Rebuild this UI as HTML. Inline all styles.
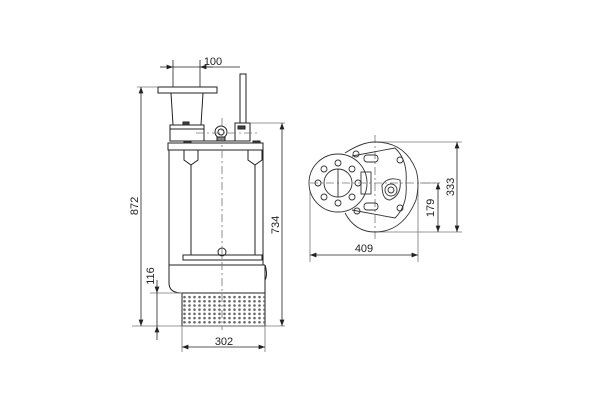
<!DOCTYPE html>
<html><head><meta charset="utf-8"><style>
html,body{margin:0;padding:0;background:#fff;width:600px;height:400px;overflow:hidden}
text{font-family:"Liberation Sans",sans-serif;font-size:11px;fill:#222}
</style></head><body>
<svg width="600" height="400" viewBox="0 0 600 400" xmlns="http://www.w3.org/2000/svg">
<defs>
<pattern id="holes" x="182" y="295" width="5" height="4.2" patternUnits="userSpaceOnUse">
<circle cx="2.5" cy="2.1" r="1.3" fill="#666"/>
</pattern>
<marker id="a" viewBox="0 0 8 6" refX="8" refY="3" markerWidth="8" markerHeight="6" orient="auto-start-reverse"><path d="M0,0L8,3L0,6z" fill="#222"/></marker>
</defs>
<g stroke="#222" fill="none" stroke-width="1">
<rect x="158" y="87" width="59" height="6"/>
<path d="M171,93L173,125M203,93L201,125"/>
<rect x="170" y="125" width="34" height="16"/>
<path d="M170,129H204"/>
<rect x="183" y="122" width="6" height="3" fill="#444"/>
<circle cx="221" cy="132" r="6"/><circle cx="221" cy="132" r="3"/>
<rect x="217" y="137" width="8" height="4" fill="#888"/>
<path d="M204,141H235"/>
<rect x="240" y="74" width="6" height="49"/>
<rect x="235" y="123" width="15" height="18"/>
<rect x="238" y="126" width="7" height="3" fill="#444"/>
<rect x="168" y="143" width="95" height="7"/>
<rect x="184" y="141" width="7" height="2" fill="#444"/><rect x="253" y="141" width="7" height="2" fill="#444"/>
<path d="M169,150V265M263,150V265"/>
<path d="M184,150V160L191,165L198,160V150M191,165V255M248,150V160L255,165L262,160V150M255,165V255"/>
<path d="M183,255H262V260H183Z"/>
<circle cx="222" cy="252" r="4"/>
<path d="M169,265H265M169,265V283Q169,293 182,293H265V265Q268,275 265,280"/>
<rect x="182" y="293" width="83" height="33"/>
<rect x="182" y="295" width="83" height="29" fill="url(#holes)" stroke="none"/>
</g>
<g stroke="#777" stroke-width="0.8" fill="none">
<path d="M222,118V330" stroke-dasharray="8,3,2,3"/>
<path d="M196,133H260" stroke-dasharray="8,3,2,3"/>
<path d="M310,183H440" stroke-dasharray="8,3,2,3"/>
<path d="M375,135V240" stroke-dasharray="8,3,2,3"/>
<path d="M132,326H285M137,87H158M250,123H285M150,293H182M182,326V352M265,326V352M310,190V262M418,183V262M375,142H462M375,232H462M420,183H440"/>
</g>
<g stroke="#222" stroke-width="0.8" fill="none">
<path d="M141,87V326" marker-start="url(#a)" marker-end="url(#a)"/>
<path d="M282,123V326" marker-start="url(#a)" marker-end="url(#a)"/>
<path d="M157,280V293" marker-end="url(#a)"/><path d="M157,340V326" marker-end="url(#a)"/><path d="M157,293V326"/>
<path d="M182,347H265" marker-start="url(#a)" marker-end="url(#a)"/>
<path d="M160,67H173" marker-end="url(#a)"/><path d="M213,67H200" marker-end="url(#a)"/><path d="M173,67H240"/>
<path d="M173,60V87M200,60V87"/>
<path d="M310,255H418" marker-start="url(#a)" marker-end="url(#a)"/>
<path d="M457,142V232" marker-start="url(#a)" marker-end="url(#a)"/>
<path d="M438,183V232" marker-start="url(#a)" marker-end="url(#a)"/>
</g>
<g stroke="#333" fill="none" stroke-width="0.9">
<path d="M345,153Q362,142 375,142Q405,142 416,170Q420,183 416,200Q403,232 375,232Q355,232 345,213"/>
<circle cx="338" cy="183" r="29"/>
<circle cx="338" cy="183" r="14"/><path d="M338,169V197"/>
<circle cx="318" cy="183" r="3"/><circle cx="358" cy="183" r="3"/><circle cx="338" cy="163" r="3"/><circle cx="338" cy="203" r="3"/>
<circle cx="324" cy="169" r="3"/><circle cx="352" cy="169" r="3"/><circle cx="324" cy="197" r="3"/><circle cx="352" cy="197" r="3"/>
<path d="M352,156L395,148Q408,160 406,183Q408,205 395,218L352,210"/>
<circle cx="356" cy="154" r="3"/><circle cx="357" cy="211" r="3"/><circle cx="400" cy="160" r="3"/><circle cx="400" cy="208" r="3"/>
<rect x="364" y="155" width="14" height="7" rx="3"/><rect x="364" y="203" width="14" height="7" rx="3"/>
<rect x="361" y="172" width="10" height="22"/>
<path d="M382,185Q388,176 400,180Q402,195 390,200Q382,200 382,185Z"/>
<circle cx="391" cy="190" r="6"/><circle cx="391" cy="190" r="3"/>
</g>
<text x="213" y="65" text-anchor="middle">100</text>
<text x="224" y="345" text-anchor="middle">302</text>
<text x="364" y="252" text-anchor="middle">409</text>
<text transform="translate(138,206) rotate(-90)" text-anchor="middle">872</text>
<text transform="translate(279,225) rotate(-90)" text-anchor="middle">734</text>
<text transform="translate(154,276) rotate(-90)" text-anchor="middle">116</text>
<text transform="translate(434,208) rotate(-90)" text-anchor="middle">179</text>
<text transform="translate(454,187) rotate(-90)" text-anchor="middle">333</text>
</svg>
</body></html>
